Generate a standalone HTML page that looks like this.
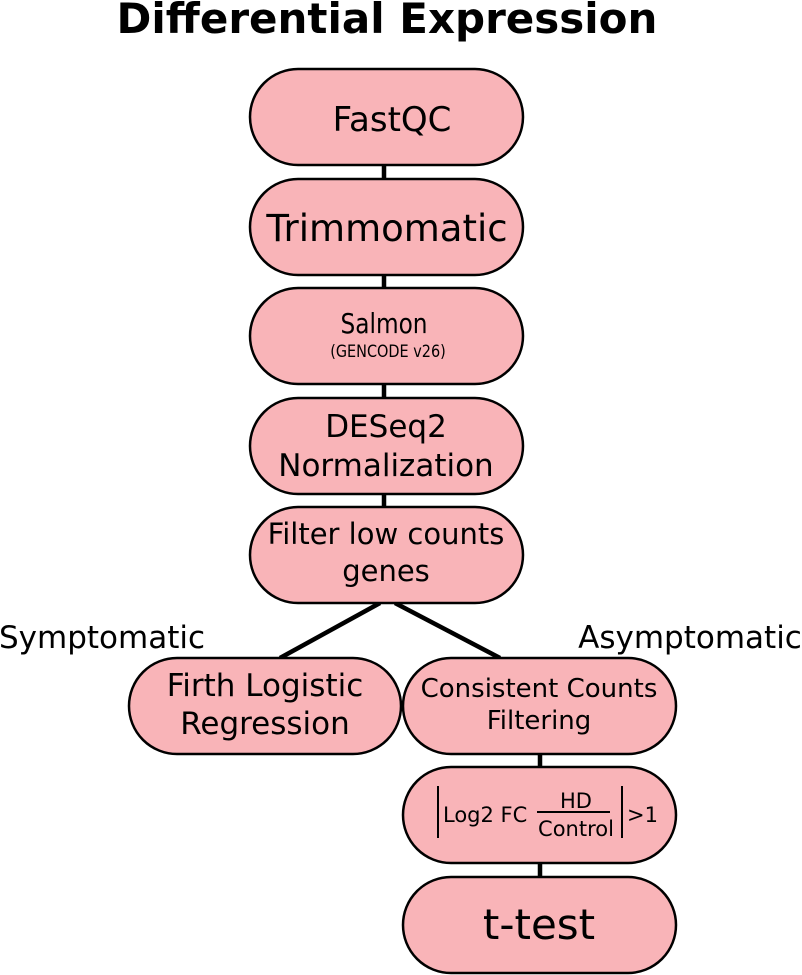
<!DOCTYPE html>
<html><head><meta charset="utf-8"><style>
html,body{margin:0;padding:0;background:#fff;}
svg{display:block;}
text{font-family:"DejaVu Sans","Liberation Sans",sans-serif;fill:#000;}
</style></head><body>
<svg width="802" height="975" viewBox="0 0 802 975">
<g stroke="#000" stroke-width="4.5">
<line x1="384" y1="165" x2="384" y2="507"/>
<line x1="380" y1="603" x2="280" y2="658"/>
<line x1="395" y1="603" x2="500" y2="658"/>
<line x1="540" y1="754" x2="540" y2="877"/>
</g>
<g fill="#f9b4b8" stroke="#000" stroke-width="2.5">
<rect x="250" y="69" width="273" height="96" rx="48"/>
<rect x="250" y="179" width="273" height="96" rx="48"/>
<rect x="250" y="288" width="273" height="96" rx="48"/>
<rect x="250" y="398" width="273" height="96" rx="48"/>
<rect x="250" y="507" width="273" height="96" rx="48"/>
<rect x="129" y="658" width="272" height="96" rx="48"/>
<rect x="403" y="658" width="273" height="96" rx="48"/>
<rect x="403" y="767" width="273" height="96" rx="48"/>
<rect x="403" y="877" width="273" height="96" rx="48"/>
</g>
<text x="387" y="33" font-size="42" font-weight="bold" text-anchor="middle">Differential Expression</text>
<text x="392" y="131" font-size="34" text-anchor="middle">FastQC</text>
<text x="387" y="241" font-size="37" text-anchor="middle">Trimmomatic</text>
<g transform="translate(384,333) scale(0.83,1)"><text x="0" y="0" font-size="28" text-anchor="middle">Salmon</text></g>
<g transform="translate(388,357) scale(0.85,1)"><text x="0" y="0" font-size="17" text-anchor="middle">(GENCODE v26)</text></g>
<text x="386" y="437" font-size="31" text-anchor="middle">DESeq2</text>
<text x="386" y="476" font-size="31" text-anchor="middle">Normalization</text>
<text x="386" y="544" font-size="29" text-anchor="middle">Filter low counts</text>
<text x="386" y="581" font-size="29" text-anchor="middle">genes</text>
<text x="102" y="648" font-size="31" text-anchor="middle">Symptomatic</text>
<text x="690" y="648" font-size="31" text-anchor="middle">Asymptomatic</text>
<text x="265" y="696" font-size="31" text-anchor="middle">Firth Logistic</text>
<text x="265" y="734" font-size="31" text-anchor="middle">Regression</text>
<text x="539" y="697" font-size="26" text-anchor="middle">Consistent Counts</text>
<text x="539" y="729" font-size="26" text-anchor="middle">Filtering</text>
<g stroke="#000" stroke-width="2">
<line x1="438" y1="786" x2="438" y2="838"/>
<line x1="622" y1="786" x2="622" y2="838"/>
<line x1="537" y1="812" x2="610" y2="812"/>
</g>
<text x="443" y="822" font-size="21">Log2 FC</text>
<text x="576" y="808" font-size="21" text-anchor="middle">HD</text>
<text x="576" y="836" font-size="21" text-anchor="middle">Control</text>
<text x="627" y="822" font-size="21">&gt;1</text>
<text x="539" y="939" font-size="42" text-anchor="middle">t-test</text>
</svg>
</body></html>
